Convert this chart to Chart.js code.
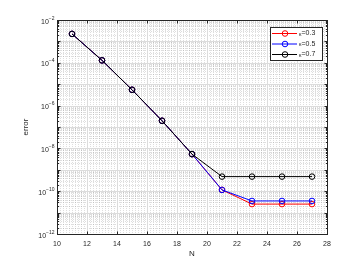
<!DOCTYPE html>
<html>
<head>
<meta charset="utf-8">
<script src="https://cdn.jsdelivr.net/npm/chart.js@4"></script>
<style>
  html, body { margin: 0; padding: 0; background: #fff; }
  #wrap { width: 350px; height: 266px; }
</style>
</head>
<body>
<div id="wrap"><canvas id="errChart" width="350" height="266"></canvas></div>
<script>
// values
const nValues = [11, 13, 15, 17, 19, 21, 23, 25, 27];
const errK03 = [2.24e-3, 1.3e-4, 5.5e-6, 1.96e-7, 5.4e-9, 1.15e-10, 2.5e-11, 2.5e-11, 2.5e-11];
const errK05 = [2.24e-3, 1.3e-4, 5.5e-6, 1.96e-7, 5.4e-9, 1.15e-10, 3.5e-11, 3.5e-11, 3.5e-11];
const errK07 = [2.24e-3, 1.3e-4, 5.5e-6, 1.96e-7, 5.4e-9, 4.8e-10, 4.8e-10, 4.8e-10, 4.8e-10];
const kappaValues = ['0.3', '0.5', '0.7'];
const seriesColors = ['#ff0000', '#0000ff', '#000000'];
const xTicks = [10, 12, 14, 16, 18, 20, 22, 24, 26, 28];
const yExponents = [-12, -10, -8, -6, -4, -2];

const axisColor = '#262626';
const font = '"Liberation Sans", Arial, sans-serif';

function toPoints(ys) {
  return nValues.map((n, i) => ({ x: n, y: ys[i] }));
}

// grid, frame, tick marks, y labels, titles and legend
const matlabAxes = {
  id: 'matlabAxes',
  beforeDatasetsDraw(chart) {
    const { ctx, chartArea: a, scales: { x, y } } = chart;
    ctx.save();
    ctx.lineWidth = 1;
    // minor grid
    ctx.strokeStyle = 'rgba(0,0,0,0.13)';
    ctx.setLineDash([1, 1]);
    for (let v = 10; v <= 28.001; v += 0.2) {
      const px = Math.round(x.getPixelForValue(v)) + 0.5;
      ctx.beginPath(); ctx.moveTo(px, a.top); ctx.lineTo(px, a.bottom); ctx.stroke();
    }
    for (let e = -12; e < -2; e++) {
      for (let m = 2; m <= 9; m++) {
        const py = Math.round(y.getPixelForValue(m * Math.pow(10, e))) + 0.5;
        ctx.beginPath(); ctx.moveTo(a.left, py); ctx.lineTo(a.right, py); ctx.stroke();
      }
    }
    // major grid
    ctx.setLineDash([]);
    ctx.strokeStyle = '#dcdcdc';
    xTicks.forEach(v => {
      const px = Math.round(x.getPixelForValue(v)) + 0.5;
      ctx.beginPath(); ctx.moveTo(px, a.top); ctx.lineTo(px, a.bottom); ctx.stroke();
    });
    for (let e = -12; e <= -2; e++) {
      const py = Math.round(y.getPixelForValue(Math.pow(10, e))) + 0.5;
      ctx.beginPath(); ctx.moveTo(a.left, py); ctx.lineTo(a.right, py); ctx.stroke();
    }
    ctx.restore();
  },
  afterDraw(chart) {
    const { ctx, chartArea: a, scales: { x, y } } = chart;
    ctx.save();
    ctx.strokeStyle = axisColor;
    ctx.lineWidth = 1;
    const L = Math.round(a.left) + 0.5, R = Math.round(a.right) + 0.5;
    const T = Math.round(a.top) + 0.5, B = Math.round(a.bottom) + 0.5;
    ctx.strokeRect(L, T, R - L, B - T);
    // tick marks, pointing in
    ctx.beginPath();
    xTicks.forEach(v => {
      const px = Math.round(x.getPixelForValue(v)) + 0.5;
      ctx.moveTo(px, B); ctx.lineTo(px, B - 3);
      ctx.moveTo(px, T); ctx.lineTo(px, T + 3);
    });
    for (let e = -12; e <= -2; e++) {
      for (let m = 1; m <= 9; m++) {
        if (e === -2 && m > 1) break;
        const py = Math.round(y.getPixelForValue(m * Math.pow(10, e))) + 0.5;
        const len = m === 1 ? 3 : 1.5;
        ctx.moveTo(L, py); ctx.lineTo(L + len, py);
        ctx.moveTo(R, py); ctx.lineTo(R - len, py);
      }
    }
    ctx.stroke();

    // y tick labels 10^n
    ctx.fillStyle = axisColor;
    ctx.textBaseline = 'alphabetic';
    for (let e = -12; e <= -2; e++) {
      if (e % 2 !== 0) continue;
      const py = y.getPixelForValue(Math.pow(10, e));
      const exp = '\u2212' + String(-e);
      ctx.font = '5px ' + font;
      const ew = ctx.measureText(exp).width;
      ctx.font = '7px ' + font;
      const bw = ctx.measureText('10').width;
      const right = L - 3;
      ctx.textAlign = 'left';
      ctx.fillText('10', right - ew - bw, py + 3.5);
      ctx.font = '5px ' + font;
      ctx.fillText(exp, right - ew, py - 0.5);
    }

    // axis titles
    ctx.font = '8px ' + font;
    ctx.textAlign = 'center';
    ctx.textBaseline = 'middle';
    ctx.fillText('N', (a.left + a.right) / 2, 254);
    ctx.save();
    ctx.translate(26, (a.top + a.bottom) / 2);
    ctx.rotate(-Math.PI / 2);
    ctx.fillText('error', 0, 0);
    ctx.restore();

    // legend
    const bx = 270, by = 27, bw2 = 52, bh = 33;
    ctx.fillStyle = '#fff';
    ctx.fillRect(bx, by, bw2, bh);
    ctx.strokeStyle = axisColor;
    ctx.strokeRect(bx + 0.5, by + 0.5, bw2, bh);
    kappaValues.forEach((k, i) => {
      const ry = by + 6.5 + i * 10.5;
      ctx.strokeStyle = seriesColors[i];
      ctx.beginPath(); ctx.moveTo(272, ry); ctx.lineTo(297, ry); ctx.stroke();
      ctx.beginPath(); ctx.arc(285, ry, 2.8, 0, Math.PI * 2); ctx.stroke();
      ctx.fillStyle = axisColor;
      ctx.textAlign = 'left';
      ctx.textBaseline = 'middle';
      ctx.font = '5px ' + font;
      ctx.fillText('\u03ba', 299, ry + 1);
      const kw = ctx.measureText('\u03ba').width;
      ctx.font = '7px ' + font;
      ctx.fillText('=' + k, 299 + kw, ry);
    });
    ctx.restore();
  }
};

// red drawn first, black last (on top)
const datasetsList = [errK03, errK05, errK07].map((ys, i) => ({
  label: '\u03ba=' + kappaValues[i],
  data: toPoints(ys),
  order: 2 - i,
  borderColor: seriesColors[i],
  backgroundColor: 'rgba(0,0,0,0)',
  borderWidth: 1,
  pointRadius: 2.8,
  pointBorderWidth: 1,
  pointStyle: 'circle',
  fill: false,
  tension: 0
}));

new Chart(document.getElementById('errChart'), {
  type: 'line',
  data: { datasets: datasetsList },
  options: {
    responsive: false,
    animation: false,
    devicePixelRatio: 1,
    layout: { padding: { top: 20, right: 23, left: 0, bottom: 0 } },
    plugins: { legend: { display: false }, tooltip: { enabled: false } },
    scales: {
      x: {
        type: 'linear',
        min: 10,
        max: 28,
        afterBuildTicks: s => { s.ticks = xTicks.map(v => ({ value: v })); },
        ticks: { color: axisColor, font: { family: font, size: 7 }, padding: 6, maxRotation: 0 },
        grid: { display: false, drawTicks: false },
        border: { display: false },
        afterFit: s => { s.height = 32; }
      },
      y: {
        type: 'logarithmic',
        min: 1e-12,
        max: 1e-2,
        afterBuildTicks: s => { s.ticks = yExponents.map(e => ({ value: Math.pow(10, e) })); },
        ticks: { display: false },
        grid: { display: false, drawTicks: false },
        border: { display: false },
        afterFit: s => { s.width = 57; }
      }
    }
  },
  plugins: [matlabAxes]
});
</script>
</body>
</html>
